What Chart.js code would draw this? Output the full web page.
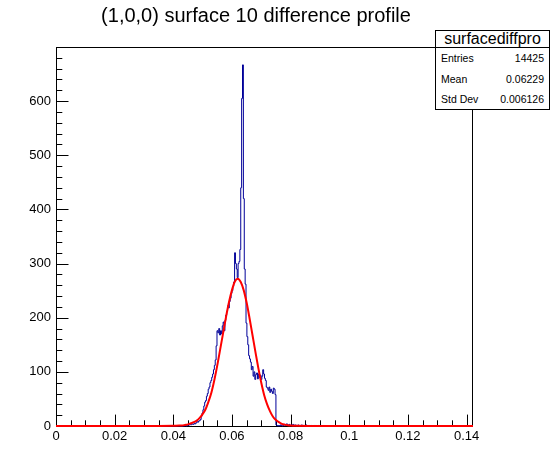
<!DOCTYPE html>
<html>
<head>
<meta charset="utf-8">
<script src="https://cdn.jsdelivr.net/npm/chart.js@4.4.0/dist/chart.umd.min.js"></script>
<style>
  html, body { margin: 0; padding: 0; background: #fff; }
  #wrap { position: relative; width: 558px; height: 474px; font-family: "Liberation Sans", Arial, sans-serif; color: #000; }
  #plot { position: absolute; left: 0; top: 0; }
  #title { position: absolute; left: 0; top: 3px; width: 512px; text-align: center; font-size: 20px; line-height: 24px; }
  #stats { position: absolute; left: 435px; top: 30px; width: 115px; height: 80px; box-sizing: border-box;
           border: 1px solid #000; background: #fff; }
  #stats .hdr { height: 16px; line-height: 16px; font-size: 16px; text-align: center; border-bottom: 1px solid #000; }
  #stats .row { display: flex; justify-content: space-between; height: 20.6px; line-height: 21.6px;
                font-size: 10.5px; padding: 0 5px 0 5px; }
</style>
</head>
<body>
<div id="wrap">
  <canvas id="plot" width="558" height="474"></canvas>
  <div id="title">(1,0,0) surface 10 difference profile</div>
  <div id="stats"></div>
</div>
<script>
// histogram: fixed-width bins from 0, counts listed from firstBin on, rest empty
const binWidth = 0.0003;
const xMax = 0.1422;
const yMax = 700;
const firstBin = 147;
const counts = [
  1, 0, 2, 1, 2, 3, 2, 3, 4, 3, 5, 4, 6, 8, 7, 9, 10, 12,
  18, 24, 30, 37, 44, 47, 55, 60, 68, 72,
  80, 84, 90, 96, 104, 112, 122, 148, 176,
  172, 180, 168, 176, 170, 185, 192, 176, 195, 205,
  212, 222, 218, 230, 236, 245, 250, 258, 266, 320,
  300, 290, 274, 300, 304, 326, 440, 605, 667, 420,
  290, 262, 190, 165, 150, 130, 124, 118, 104, 110,
  92, 100, 86, 95, 98, 87, 96, 90, 94, 86,
  92, 104, 96, 88, 84, 72, 70, 66, 72, 62,
  68, 64, 60, 70, 68, 58, 2, 1, 0, 1,
  0, 2, 1, 0, 1, 3, 1, 2, 4, 1,
  2, 3, 1, 2, 0, 3, 2, 1, 2, 0,
  1, 2, 1, 0, 1, 2, 0, 1, 1, 0,
  2, 0, 1, 0, 1, 0, 1, 0, 0, 1,
  0, 1, 0, 0, 1, 0, 0, 1, 0, 0,
  1
];

// gaussian fit curve
const fitX = [0, 0.035, 0.040, 0.042, 0.043, 0.044, 0.045, 0.046, 0.047, 0.048, 0.049,
  0.050, 0.051, 0.052, 0.053, 0.054, 0.055, 0.056, 0.057, 0.058, 0.059,
  0.060, 0.061, 0.062, 0.063, 0.064, 0.065, 0.066, 0.067, 0.068, 0.069,
  0.070, 0.071, 0.072, 0.073, 0.074, 0.075, 0.076, 0.077, 0.078, 0.079,
  0.080, 0.082, 0.088, 0.1422];
const fitY = [0, 0.05, 0.3, 0.7, 1, 2, 3, 5, 7, 10, 15,
  22, 31, 45, 62, 85, 112, 142, 172, 202, 229,
  251, 267, 272, 266, 251, 228, 199, 168, 137, 107,
  80, 57, 40, 27, 17, 11, 7, 4, 2.5, 1.5,
  0.8, 0.3, 0.05, 0];

const xTicks = [0, 0.02, 0.04, 0.06, 0.08, 0.1, 0.12, 0.14];
const yTicks = [0, 100, 200, 300, 400, 500, 600];

const statsTitle = "surfacediffpro";
const statsRows = [["Entries", "14425"], ["Mean", "0.06229"], ["Std Dev", "0.006126"]];

const stats = document.getElementById("stats");
stats.innerHTML = '<div class="hdr">' + statsTitle + '</div>' +
  statsRows.map(r => '<div class="row"><span>' + r[0] + '</span><span>' + r[1] + '</span></div>').join("");

const nBins = Math.round(xMax / binWidth);
const histPoints = [];
for (let i = 0; i < nBins; i++) {
  const k = i - firstBin;
  histPoints.push({ x: i * binWidth, y: (k >= 0 && k < counts.length) ? counts[k] : 0 });
}
histPoints.push({ x: xMax, y: 0 });

const fitPoints = fitX.map((x, i) => ({ x: x, y: fitY[i] }));

// inward tick marks and the frame, like the original
const frameTicks = {
  id: "frameTicks",
  beforeDatasetsDraw(chart) {
    const { ctx, chartArea: a, scales: { x, y } } = chart;
    ctx.save();
    ctx.strokeStyle = "#000";
    ctx.lineWidth = 1;
    ctx.beginPath();
    for (let v = 0; v <= xMax + 1e-9; v += 0.005) {
      const major = Math.abs(v / 0.02 - Math.round(v / 0.02)) < 1e-6;
      const px = Math.round(x.getPixelForValue(v)) + 0.5;
      ctx.moveTo(px, a.bottom);
      ctx.lineTo(px, a.bottom - (major ? 11.4 : 5.7));
    }
    for (let v = 0; v < yMax; v += 20) {
      const major = v % 100 === 0;
      const py = Math.round(y.getPixelForValue(v)) + 0.5;
      ctx.moveTo(a.left, py);
      ctx.lineTo(a.left + (major ? 12.5 : 6.3), py);
    }
    ctx.stroke();
    ctx.strokeRect(a.left + 0.5, a.top + 0.5, a.right - a.left - 1, a.bottom - a.top);
    ctx.restore();
  }
};

const tickFont = { family: "'Liberation Sans', Arial, sans-serif", size: 13 };

new Chart(document.getElementById("plot"), {
  type: "line",
  data: {
    datasets: [
      {
        label: "fit",
        data: fitPoints,
        borderColor: "#ff0000",
        borderWidth: 2,
        pointRadius: 0,
        tension: 0.4,
        cubicInterpolationMode: "monotone",
        clip: 3,
        order: 1
      },
      {
        label: "surfacediffpro",
        data: histPoints,
        borderColor: "#000099",
        borderWidth: 1,
        pointRadius: 0,
        stepped: true,
        clip: 3,
        order: 2
      }
    ]
  },
  options: {
    responsive: false,
    animation: false,
    layout: { padding: { top: 47, right: 85, left: 0, bottom: 0 } },
    plugins: { legend: { display: false }, tooltip: { enabled: false }, title: { display: false } },
    scales: {
      x: {
        type: "linear",
        min: 0,
        max: xMax,
        afterBuildTicks: s => { s.ticks = xTicks.map(v => ({ value: v })); },
        afterFit: s => { s.height = 48; },
        grid: { display: false, drawTicks: false },
        border: { display: false },
        ticks: {
          color: "#000",
          font: tickFont,
          padding: 3,
          maxRotation: 0,
          autoSkip: false,
          callback: v => String(+v.toFixed(3))
        }
      },
      y: {
        type: "linear",
        min: 0,
        max: yMax,
        afterBuildTicks: s => { s.ticks = yTicks.map(v => ({ value: v })); },
        afterFit: s => { s.width = 56; },
        grid: { display: false, drawTicks: false },
        border: { display: false },
        ticks: { color: "#000", font: tickFont, padding: 5, autoSkip: false }
      }
    }
  },
  plugins: [frameTicks]
});
</script>
</body>
</html>
